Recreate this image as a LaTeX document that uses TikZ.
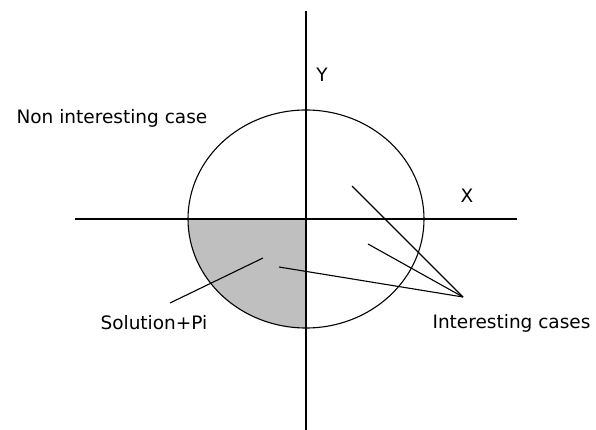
\documentclass[tikz,border=0pt]{standalone}
\usepackage{fontspec}
\setmainfont{DejaVu Sans}
\begin{document}
\begin{tikzpicture}[x=1pt,y=-1pt,line width=1.1pt,
  lbl/.style={font=\fontsize{18.5}{22}\selectfont,inner sep=0pt}]
\useasboundingbox (0,0) rectangle (596,430);
\coordinate (O) at (306,219);
\fill[black!25] (O) -- ++(-118,0) arc[start angle=180,end angle=90,x radius=118,y radius=109] -- cycle;
\draw (O) ellipse[x radius=118,y radius=109];
\coordinate (Yt) at (306,11); \coordinate (Yb) at (306,430);
\coordinate (Xl) at (75,219); \coordinate (Xr) at (517,219);
\draw (Yt)--(Yb); \draw (Xl)--(Xr);
\node[lbl] (ylab) at (322,75) {Y};
\node[lbl] (xlab) at (467,196) {X};
\node[lbl,anchor=west] (non) at (16,118) {Non interesting case};
\node[lbl,anchor=west] (sol) at (100,323) {Solution+Pi};
\node[lbl,anchor=west] (int) at (432,323) {Interesting cases};
\coordinate (S1) at (170,303); \coordinate (S2) at (263,258);
\draw (S1)--(S2);
\coordinate (apex) at (463,297);
\coordinate (I1) at (352,186); \coordinate (I2) at (368,244); \coordinate (I3) at (279,267);
\draw (apex)--(I1); \draw (apex)--(I2); \draw (apex)--(I3);
\end{tikzpicture}
\end{document}
